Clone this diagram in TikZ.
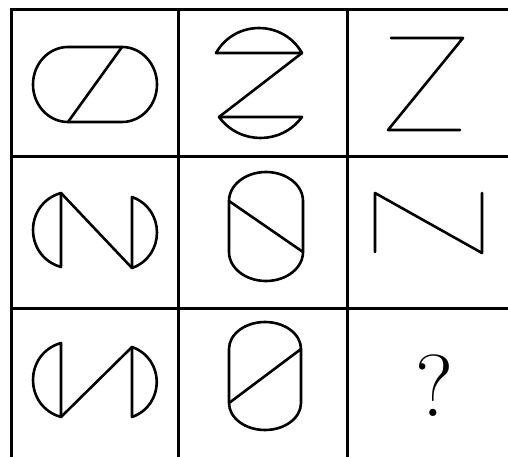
\documentclass[tikz,border=0pt]{standalone}
\begin{document}
\begin{tikzpicture}[x=1pt,y=-1pt,
  gridline/.style={line width=3pt,black},
  figline/.style={line width=2.6pt,black,line join=round,line cap=round}]
\useasboundingbox (0,0) rectangle (508,457);
% grid
\draw[gridline] (11,10) -- (508,10);
\draw[gridline] (11,157) -- (508,157);
\draw[gridline] (11,308) -- (508,308);
\draw[gridline] (11,8.5) -- (11,457);
\draw[gridline] (178,8.5) -- (178,457);
\draw[gridline] (347,8.5) -- (347,457);
% cell 1,1 horizontal stadium with diagonal
\draw[figline] (68,47) -- (122,47) arc[x radius=35pt,y radius=37.5pt,start angle=90,end angle=-90]
  -- (68,122) arc[x radius=35pt,y radius=37.5pt,start angle=270,end angle=90] -- cycle;
\draw[figline] (122,47) -- (68,122);
% cell 1,2 Z with caps
\draw[figline] (216,53) .. controls (235,19.7) and (283,19.7) .. (302,53) -- cycle;
\draw[figline] (219,117) .. controls (239.6,145) and (281.4,145) .. (302,117) -- cycle;
\draw[figline] (302,53) -- (219,117);
% cell 1,3 Z
\draw[figline] (391,38) -- (463,38) -- (388,130) -- (460,130);
% cell 2,1
\draw[figline] (61,193) .. controls (23.7,203.6) and (23.7,256.4) .. (61,267) -- cycle;
\draw[figline] (132,197) .. controls (165.3,208.9) and (165.3,256.1) .. (132,268) -- cycle;
\draw[figline] (61,193) -- (132,268);
% cell 2,2 vertical stadium
\draw[figline] (229,252) -- (229,201) arc[x radius=37pt,y radius=29pt,start angle=180,end angle=0]
  -- (303,252) arc[x radius=37pt,y radius=29pt,start angle=0,end angle=-180] -- cycle;
\draw[figline] (229,201) -- (303,252);
% cell 2,3 N
\draw[figline] (375,252) -- (375,193) -- (482,253) -- (482,193);
% cell 3,1
\draw[figline] (61,343) .. controls (23.7,353.6) and (23.7,406.4) .. (61,417) -- cycle;
\draw[figline] (132,347) .. controls (165,358.7) and (165,405.3) .. (132,417) -- cycle;
\draw[figline] (61,417) -- (132,347);
% cell 3,2 vertical stadium
\draw[figline] (229,403) -- (229,349) arc[x radius=36pt,y radius=27pt,start angle=180,end angle=0]
  -- (301,403) arc[x radius=36pt,y radius=27pt,start angle=0,end angle=-180] -- cycle;
\draw[figline] (229,403) -- (301,349);
% cell 3,3
\node[inner sep=0pt] (q) at (435,386) {\fontsize{88}{88}\selectfont ?};
\end{tikzpicture}
\end{document}
